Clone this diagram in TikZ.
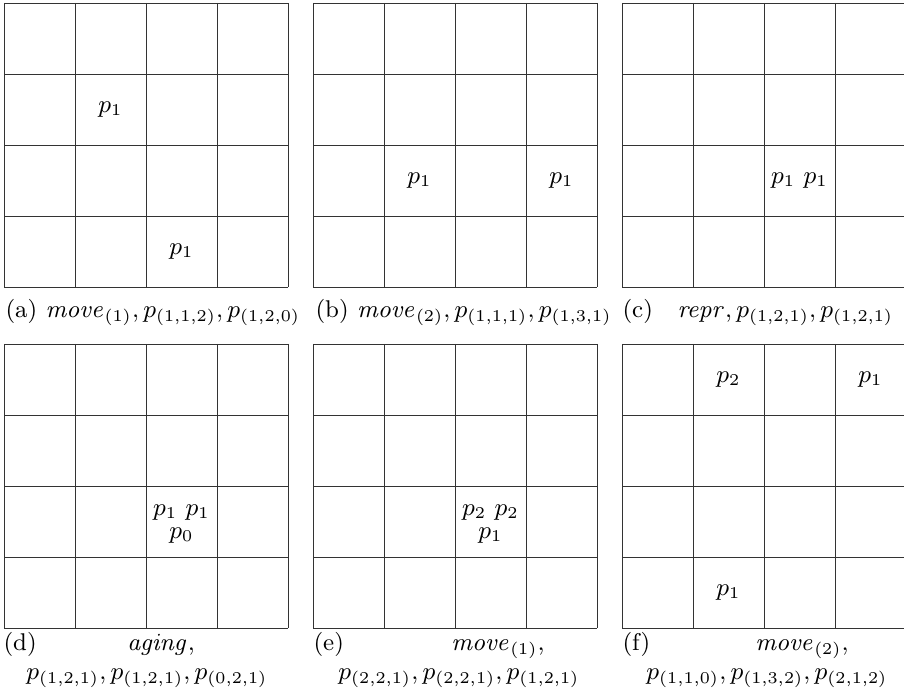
\documentclass[tikz,border=0pt]{standalone}
\begin{document}
\begin{tikzpicture}[x=0.3636pt,y=-0.3636pt,
  gl/.style={line width=0.34pt,black!80},
  lab/.style={inner sep=0pt,font=\fontsize{8.8}{10}\selectfont},
  captxt/.style={inner sep=0pt,font=\fontsize{8.8}{10}\selectfont}]
\useasboundingbox (0,0) rectangle (904,697);
\newcommand\mygrid[2]{%
  \foreach \i in {0,...,4} {%
    \draw[gl] ({#1+71*\i},#2) -- ++(0,284);
    \draw[gl] (#1,{#2+71*\i}) -- ++(284,0);
  }}
% grids
\mygrid{4}{3}
\mygrid{313}{3}
\mygrid{622}{3}
\mygrid{4}{344}
\mygrid{313}{344}
\mygrid{622}{344}
% (a)
\node[lab] (a1) at (110.5,109.5) {$p_1$};
\node[lab] (a2) at (181.5,251.5) {$p_1$};
% (b)
\node[lab] (b1) at (419.5,180.5) {$p_1$};
\node[lab] (b2) at (561.5,180.5) {$p_1$};
% (c)
\node[lab] (c1) at (799.5,180.5) {$p_1$ $p_1$};
% (d)
\node[lab,anchor=base] (d1) at (181.5,516) {$p_1$ $p_1$};
\node[lab,anchor=base] (d2) at (181.5,539) {$p_0$};
% (e)
\node[lab,anchor=base] (e1) at (490.5,516) {$p_2$ $p_2$};
\node[lab,anchor=base] (e2) at (490.5,539) {$p_1$};
% (f)
\node[lab] (f1) at (728.5,379.5) {$p_2$};
\node[lab] (f2) at (870.5,379.5) {$p_1$};
\node[lab] (f3) at (728.5,592.5) {$p_1$};
% captions
\node[captxt,anchor=base west] (capa) at (5,318) {(a) $\mathit{move}_{(1)}, p_{(1,1,2)}, p_{(1,2,0)}$};
\node[captxt,anchor=base west] (capb) at (315,318) {(b) $\mathit{move}_{(2)}, p_{(1,1,1)}, p_{(1,3,1)}$};
\node[captxt,anchor=base west] (capc) at (622,318) {(c)};
\node[captxt,anchor=base west] (capc2) at (677,318) {$\mathit{repr}, p_{(1,2,1)}, p_{(1,2,1)}$};
\node[captxt,anchor=base west] (capd) at (3,651) {(d)};
\node[captxt,anchor=base] (capd2) at (161,651) {$\mathit{aging},$};
\node[captxt,anchor=base] (capd3) at (147,680) {$p_{(1,2,1)}, p_{(1,2,1)}, p_{(0,2,1)}$};
\node[captxt,anchor=base west] (cape) at (313,651) {(e)};
\node[captxt,anchor=base] (cape2) at (498,651) {$\mathit{move}_{(1)},$};
\node[captxt,anchor=base] (cape3) at (459,680) {$p_{(2,2,1)}, p_{(2,2,1)}, p_{(1,2,1)}$};
\node[captxt,anchor=base west] (capf) at (622,651) {(f)};
\node[captxt,anchor=base] (capf2) at (802,651) {$\mathit{move}_{(2)},$};
\node[captxt,anchor=base] (capf3) at (767,680) {$p_{(1,1,0)}, p_{(1,3,2)}, p_{(2,1,2)}$};
\end{tikzpicture}
\end{document}
